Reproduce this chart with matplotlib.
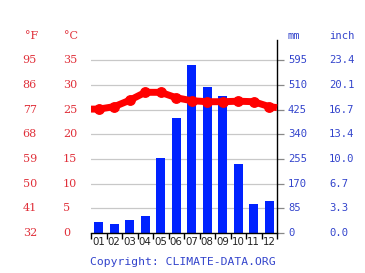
import numpy as np
import matplotlib
matplotlib.use('Agg')
import matplotlib.pyplot as plt

# climate data
months = ['01', '02', '03', '04', '05', '06', '07', '08', '09', '10', '11', '12']
rain_mm = [38, 32, 46, 60, 260, 395, 580, 504, 473, 239, 100, 110]
temp_c = [25.1, 25.6, 26.9, 28.5, 28.5, 27.4, 26.8, 26.6, 26.6, 26.7, 26.6, 25.6]
temp_edges = [25.1, 25.4]  # where the line meets the left/right border

c_ticks = [0, 5, 10, 15, 20, 25, 30, 35]
f_labels = ['32', '41', '50', '59', '68', '77', '86', '95']
mm_labels = ['0', '85', '170', '255', '340', '425', '510', '595']
inch_labels = ['0.0', '3.3', '6.7', '10.0', '13.4', '16.7', '20.1', '23.4']

red_txt = '#e0303a'
blue_txt = '#3344cc'

fig = plt.figure(figsize=(3.65, 2.73), dpi=100)
ax = fig.add_axes([91/365, 40/273, 186/365, 193/273])
ymax = 39.1

x = np.arange(1, 13)
ax.set_xlim(0.5, 12.5)
ax.set_ylim(0, ymax)

# grid lines
for c in c_ticks[1:]:
    ax.axhline(c, color='#c8c8c8', lw=0.9, zorder=0)

# bars: mm -> °C scale (85 mm per 5 °C)
ax.bar(x, np.array(rain_mm) / 17.0, width=0.58, color='#0022ff', zorder=2)

# temperature line
tx = np.concatenate([[0.5], x, [12.5]])
ty = np.concatenate([[temp_edges[0]], temp_c, [temp_edges[1]]])
ax.plot(tx, ty, color='#ff0000', lw=5, solid_capstyle='butt', zorder=3,
        clip_on=False)
ax.plot(x, temp_c, 'o', color='#ff0000', ms=6.8, zorder=4)

for s in ['top', 'left']:
    ax.spines[s].set_visible(False)
ax.spines['right'].set_color('black')
ax.spines['bottom'].set_color('black')
ax.spines['right'].set_linewidth(1.0)
ax.spines['bottom'].set_linewidth(1.0)

# x ticks at month boundaries, labels in centres
ax.set_xticks(np.arange(0.5, 13, 1))
ax.set_xticklabels([])
ax.set_xticks(x, minor=True)
ax.set_xticklabels(months, minor=True, fontsize=7.4, color='#222222',
                   family='DejaVu Sans')
ax.tick_params(axis='x', which='major', length=4, width=1, color='black',
               direction='out')
ax.tick_params(axis='x', which='minor', length=0, pad=3)

ax.yaxis.tick_right()
ax.set_yticks(c_ticks)
ax.set_yticklabels([])
ax.tick_params(axis='y', which='major', length=5, width=0.9, color='#888888',
               direction='out')

tr = ax.get_yaxis_transform()
for c, f, mm, inch in zip(c_ticks, f_labels, mm_labels, inch_labels):
    ax.text(-0.367, c, f, transform=tr, ha='left', va='center',
            color=red_txt, fontsize=8, family='DejaVu Serif')
    ax.text(-0.151, c, str(c), transform=tr, ha='left', va='center',
            color=red_txt, fontsize=8, family='DejaVu Serif')
    ax.text(1.059, c, mm, transform=tr, ha='left', va='center',
            color=blue_txt, fontsize=7.6, family='DejaVu Sans Mono')
    ax.text(1.28, c, inch, transform=tr, ha='left', va='center',
            color=blue_txt, fontsize=7.6, family='DejaVu Sans Mono')

fig.text(25/365, 1 - 36/273, '°F', ha='left', va='center', color=red_txt,
         fontsize=8, family='DejaVu Serif')
fig.text(64/365, 1 - 36/273, '°C', ha='left', va='center', color=red_txt,
         fontsize=8, family='DejaVu Serif')
fig.text(288/365, 1 - 36/273, 'mm', ha='left', va='center', color=blue_txt,
         fontsize=7.6, family='DejaVu Sans Mono')
fig.text(329/365, 1 - 36/273, 'inch', ha='left', va='center', color=blue_txt,
         fontsize=7.6, family='DejaVu Sans Mono')
fig.text(90/365, 1 - 262/273, 'Copyright: CLIMATE-DATA.ORG', ha='left',
         va='center', color=blue_txt, fontsize=8.2, family='DejaVu Sans Mono')

fig.savefig('out.png', dpi=100)
